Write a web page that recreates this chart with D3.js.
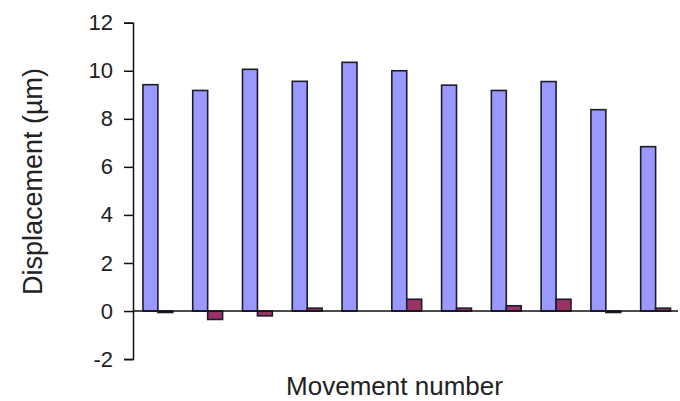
<!DOCTYPE html>
<html>
<head>
<meta charset="utf-8">
<script src="https://cdn.jsdelivr.net/npm/d3@7"></script>
<style>
  body { margin: 0; background: #fff; }
  text { font-family: "Liberation Sans", Arial, sans-serif; fill: #222; }
</style>
</head>
<body>
<div id="svg"></div>
<script>
// movement numbers 1..11
var movements = ["1","2","3","4","5","6","7","8","9","10","11"]
var series = ["a","b"]
var seriesA = [9.42, 9.18, 10.06, 9.56, 10.35, 10.0, 9.4, 9.18, 9.55, 8.38, 6.84]
var seriesB = [-0.06, -0.35, -0.2, 0.12, 0, 0.49, 0.12, 0.22, 0.49, -0.06, 0.12]
var yTicks = [-2, 0, 2, 4, 6, 8, 10, 12]
var color = ["#9999ff", "#993366"]

var width = 680, height = 401

var svg = d3.select("#svg")
    .append("svg")
    .attr("width", width)
    .attr("height", height)

var data = movements.map(function(m, i) {
    return {m: m, values: [seriesA[i], seriesB[i]]}
})

// scales
var x = d3.scaleBand()
    .domain(movements)
    .range([133, 680.5])
    .paddingInner(0.4)
    .paddingOuter(0.2)

var x1 = d3.scaleBand()
    .domain(series)
    .range([0, x.bandwidth()])

var y = d3.scaleLinear()
    .domain([-2, 12])
    .range([359.1, 22.7])

// y axis
var yAxis = svg.append("g")
    .attr("transform", "translate(133,0)")
    .call(d3.axisLeft(y)
        .tickValues(yTicks)
        .tickSize(9)
        .tickPadding(11)
        .tickFormat(function(d) { return String(d) }))
yAxis.select(".domain").attr("stroke", "#111").attr("stroke-width", 1.5)
yAxis.selectAll(".tick line").attr("stroke", "#111").attr("stroke-width", 1.5)
yAxis.selectAll(".tick text")
    .style("font-family", "'Liberation Sans', Arial, sans-serif")
    .style("font-size", "22px")
    .attr("fill", "#222")

// bars
var groups = svg.append("g")
    .selectAll("g")
    .data(data)
    .enter()
    .append("g")
    .attr("transform", function(d) { return "translate(" + x(d.m) + ",0)" })

groups.selectAll("rect")
    .data(function(d) { return d.values.map(function(v, i) { return {k: series[i], v: v} }) })
    .enter()
    .append("rect")
    .attr("x", function(d) { return x1(d.k) })
    .attr("width", x1.bandwidth())
    .attr("y", function(d) { return y(Math.max(0, d.v)) })
    .attr("height", function(d) { return Math.abs(y(d.v) - y(0)) })
    .attr("fill", function(d, i) { return color[i] })
    .attr("stroke", "#1c1c2a")
    .attr("stroke-width", 1.6)

// zero line
svg.append("line")
    .attr("x1", 133)
    .attr("x2", 678)
    .attr("y1", y(0))
    .attr("y2", y(0))
    .attr("stroke", "#111")
    .attr("stroke-width", 1.5)

// axis titles
svg.append("text")
    .attr("x", 394.5)
    .attr("y", 395)
    .attr("text-anchor", "middle")
    .style("font-size", "26px")
    .text("Movement number")

svg.append("text")
    .attr("transform", "translate(42,181.5) rotate(-90)")
    .attr("text-anchor", "middle")
    .style("font-size", "27px")
    .text("Displacement (µm)")
</script>
</body>
</html>
